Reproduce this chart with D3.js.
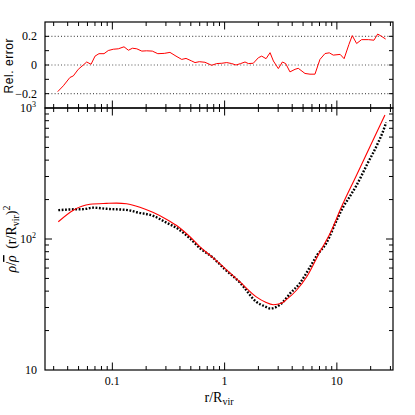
<!DOCTYPE html>
<html><head><meta charset="utf-8">
<script src="https://cdnjs.cloudflare.com/ajax/libs/d3/7.8.5/d3.min.js"></script>
<style>body{margin:0;background:#fff}svg{display:block}</style>
</head><body><svg id="c" width="415" height="415"></svg>
<script>
// ---- data ----
// relative error (top panel)
const errR = [0.0326,0.0366,0.0419,0.0449,0.0497,0.0551,0.0591,0.0646,0.0701,0.0760,0.0843,0.0920,0.102,0.113,0.127,0.139,0.151,0.165,0.183,0.202,0.227,0.254,0.290,0.326,0.369,0.415,0.453,0.509,0.545,0.595,0.668,0.767,0.850,0.942,1.044,1.156,1.263,1.39,1.52,1.626,1.80,2.0,2.14,2.34,2.54,2.72,3.01,3.27,3.50,3.82,4.24,4.53,5.20,5.76,6.38,7.07,7.84,8.56,9.29,10.7,11.6,12.8,13.7,15.0,16.6,19.1,21.4,23.1,25.1,27.2];
const errV = [-0.186,-0.145,-0.087,-0.076,-0.030,0.000,0.021,0.005,0.062,0.079,0.079,0.101,0.110,0.113,0.127,0.103,0.117,0.113,0.097,0.099,0.097,0.079,0.081,0.088,0.062,0.039,0.046,0.028,0.017,0.023,0.019,-0.002,0.010,0.012,0.017,0.010,0.000,0.010,0.021,0.010,0.012,0.051,0.062,0.044,0.086,0.028,-0.025,0.021,0.010,-0.048,-0.030,-0.023,-0.059,-0.064,-0.064,0.039,0.080,0.085,0.069,0.074,0.044,0.143,0.205,0.150,0.177,0.177,0.173,0.216,0.199,0.181];
const errRefLines = [-0.2, 0, 0.2];
// model (red, bottom panel)
const modelR = [0.033,0.0449,0.0632,0.089,0.109,0.134,0.176,0.232,0.305,0.387,0.491,0.604,0.772,1.0,1.37,1.93,2.3,2.72,3.2,3.57,4.39,5.39,7.07,8.69,11.0,15.0,19.7,26.8];
const modelV = [135.5,166,184,187,188,186,175,159,141,124,104,87,73,60,47,36,33,31.5,32.3,34.6,40.8,51.5,80,110,176,308,507,885];
// measured profile (black dotted, bottom panel)
const dataR = [0.033,0.0449,0.0551,0.0677,0.089,0.139,0.165,0.232,0.305,0.387,0.491,0.604,0.772,1.0,1.37,1.93,2.3,2.55,2.9,3.3,3.82,4.68,5.76,6.65,8.05,10.0,11.4,12.9,15.0,18.7,23.0,25.8,27.5];
const dataV = [166,168.5,169,173.5,170,166,160,150,133,119,101,85,73,59,46.5,33,30.5,29.5,30.3,33,38.3,46,61,75,93,140,176,208,258,375,530,665,775];
const xMajor = [0.1, 1, 10];
const xLabels = ["0.1", "1", "10"];
const errTicks = [-0.2,-0.1,0,0.1,0.2];
const errLabels = ["\u22120.2","0","0.2"];

// ---- layout ----
const L=45, R=393, T1=22, B1=108, T2=108, B2=370;
const svg = d3.select("#c");
const x = d3.scaleLog().domain([Math.pow(10,-1.6), Math.pow(10,1.5)]).range([L,R]);
const yE = d3.scaleLinear().domain([-0.3,0.3]).range([B1,T1]);
const yD = d3.scaleLog().domain([10,1000]).range([B2,T2]);

const xMinor = [];
for (let e=-2; e<=1; e++) for (let m=2; m<=9; m++) { const v=m*Math.pow(10,e); if (v>=x.domain()[0] && v<=x.domain()[1]) xMinor.push(v); }
const yMinor = [];
for (let e=1; e<=2; e++) for (let m=2; m<=9; m++) yMinor.push(m*Math.pow(10,e));

const serif = "'Liberation Serif','DejaVu Serif',serif";
const sans = "'Liberation Sans',Arial,sans-serif";

// reference dotted lines (top)
svg.append("g").selectAll("line").data(errRefLines).join("line")
  .attr("x1",L).attr("x2",R).attr("y1",d=>yE(d)).attr("y2",d=>yE(d))
  .attr("stroke","#555").attr("stroke-width",1.2).attr("stroke-dasharray","1,2.2");

function xt(y, vals, len, dir){
  svg.append("g").selectAll("line").data(vals).join("line")
    .attr("x1",d=>x(d)).attr("x2",d=>x(d)).attr("y1",y).attr("y2",y+dir*len)
    .attr("stroke","#000").attr("stroke-width",1);
}
function yt(xp, scale, vals, len, dir){
  svg.append("g").selectAll("line").data(vals).join("line")
    .attr("y1",d=>scale(d)).attr("y2",d=>scale(d)).attr("x1",xp).attr("x2",xp+dir*len)
    .attr("stroke","#000").attr("stroke-width",1);
}
// top panel
xt(T1,xMinor,4,1); xt(T1,xMajor,7.5,1);
xt(B1,xMinor,4,-1); xt(B1,xMajor,7.5,-1);
yt(L,yE,errTicks,4,1); yt(R,yE,errTicks,4,-1);
// bottom panel
xt(T2,xMinor,4,1); xt(T2,xMajor,7.5,1);
xt(B2,xMinor,4,-1); xt(B2,xMajor,7.5,-1);
yt(L,yD,yMinor,4,1); yt(R,yD,yMinor,4,-1);
yt(L,yD,[100],7,1); yt(R,yD,[100],7,-1);

// frames
svg.append("rect").attr("x",L).attr("y",T1).attr("width",R-L).attr("height",B1-T1).attr("fill","none").attr("stroke","#000").attr("stroke-width",1.2);
svg.append("rect").attr("x",L).attr("y",T2).attr("width",R-L).attr("height",B2-T2).attr("fill","none").attr("stroke","#000").attr("stroke-width",1.2);

// curves
const errLine = d3.line().x((d,i)=>x(errR[i])).y(d=>yE(d));
svg.append("path").datum(errV).attr("d",errLine).attr("fill","none").attr("stroke","#ff0000").attr("stroke-width",1);

const dataLine = d3.line().x((d,i)=>x(dataR[i])).y(d=>yD(d)).curve(d3.curveMonotoneX);
svg.append("path").datum(dataV).attr("d",dataLine).attr("fill","none").attr("stroke","#000").attr("stroke-width",2.4).attr("stroke-dasharray","1.8,1.6");

const modelLine = d3.line().x((d,i)=>x(modelR[i])).y(d=>yD(d)).curve(d3.curveMonotoneX);
svg.append("path").datum(modelV).attr("d",modelLine).attr("fill","none").attr("stroke","#ff0000").attr("stroke-width",1.1);

// tick labels
svg.append("g").selectAll("text").data(xMajor).join("text")
  .attr("x",d=>x(d)).attr("y",385).attr("text-anchor","middle")
  .attr("font-family",serif).attr("font-size",12).text((d,i)=>xLabels[i]);
svg.append("g").selectAll("text").data([-0.2,0,0.2]).join("text")
  .attr("x",37).attr("y",d=>yE(d)+4).attr("text-anchor","end")
  .attr("font-family",serif).attr("font-size",12).text((d,i)=>errLabels[i]);
const yLab = [[1000,"3"],[100,"2"]];
yLab.forEach(([v,s])=>{
  const t = svg.append("text").attr("x",36).attr("y",yD(v)+4).attr("text-anchor","end")
    .attr("font-family",serif).attr("font-size",12);
  t.append("tspan").text("10");
  t.append("tspan").attr("font-size",8).attr("dy",-5).text(s);
});
svg.append("text").attr("x",37).attr("y",yD(10)+4).attr("text-anchor","end")
  .attr("font-family",serif).attr("font-size",12).text("10");

// axis titles
const xt2 = svg.append("text").attr("x",219).attr("y",402).attr("text-anchor","middle")
  .attr("font-family",serif).attr("font-size",14);
xt2.append("tspan").text("r/R");
xt2.append("tspan").attr("font-size",10).attr("dy",3).text("vir");

svg.append("text").attr("transform","translate(13,66) rotate(-90)").attr("text-anchor","middle")
  .attr("font-family",sans).attr("font-size",12).attr("textLength",55).text("Rel. error");

const yt2 = svg.append("text").attr("transform","translate(16,239) rotate(-90)").attr("text-anchor","middle")
  .attr("font-family",serif).attr("font-size",14);
yt2.append("tspan").attr("font-style","italic").text("\u03c1");
yt2.append("tspan").text("/");
yt2.append("tspan").attr("font-style","italic").attr("text-decoration","overline").text("\u03c1");
yt2.append("tspan").text("\u2009\u00a0(r/R");
yt2.append("tspan").attr("font-size",10).attr("dy",3).text("vir");
yt2.append("tspan").attr("dy",-3).text(")");
yt2.append("tspan").attr("font-size",10).attr("dy",-6).text("2");
</script></body></html>
